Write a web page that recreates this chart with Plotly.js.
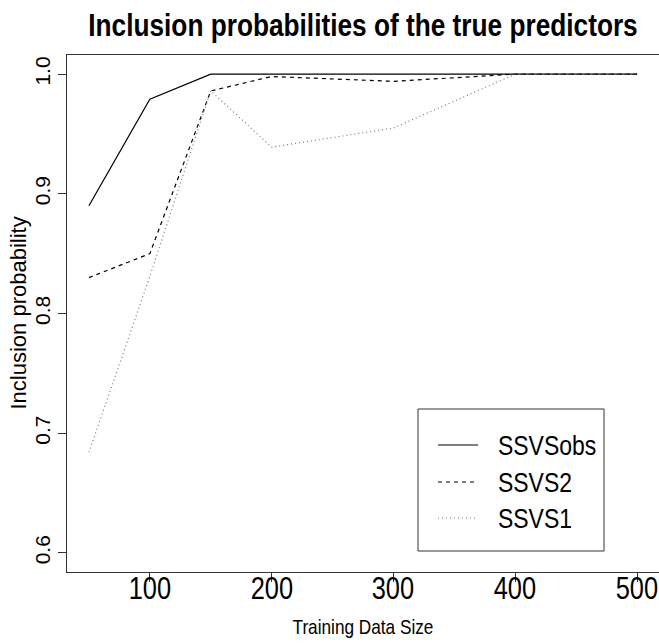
<!DOCTYPE html>
<html>
<head>
<meta charset="utf-8">
<script src="https://cdn.plot.ly/plotly-3.0.1.min.js"></script>
<style>
  html, body { margin: 0; padding: 0; background: #ffffff; }
  #chart { width: 659px; height: 644px; }
</style>
</head>
<body>
<div id="chart"></div>
<script>
// Training data sizes and inclusion probabilities per method
const trainingSize = [50, 100, 150, 200, 300, 400, 500];
const ssvsObs = [0.890, 0.979, 1.000, 1.000, 1.000, 1.000, 1.000];
const ssvs2   = [0.830, 0.850, 0.986, 0.998, 0.994, 1.000, 1.000];
const ssvs1   = [0.684, 0.831, 0.986, 0.939, 0.955, 1.000, 1.000];
const seriesNames = ["SSVSobs", "SSVS2", "SSVS1"];
const xTicks = [100, 200, 300, 400, 500];
const yTicks = [0.6, 0.7, 0.8, 0.9, 1.0];
const yTickText = ["0.6", "0.7", "0.8", "0.9", "1.0"];

// Fonts: horizontal text is set in a condensed Helvetica look, rotated text in the regular width
const NARROW = "'Liberation Sans Narrow', 'Liberation Sans', Arial, sans-serif";
const REGULAR = "'Liberation Sans', Arial, sans-serif";
const CONDENSE = 0.82;

const W = 659, H = 644;
const M = { l: 67, r: 0, t: 55, b: 72 };
const plotW = W - M.l - M.r, plotH = H - M.t - M.b;
const paperX = px => (px - M.l) / plotW;
const paperY = py => (H - M.b - py) / plotH;

const seriesStyles = [
  { color: "#000000", width: 1.2, dash: "solid" },
  { color: "#000000", width: 1.2, dash: "4px,4px" },
  { color: "#7a7a7a", width: 1.2, dash: "1px,3px" }
];
const seriesValues = [ssvsObs, ssvs2, ssvs1];

const traces = seriesValues.map((vals, i) => ({
  x: trainingSize, y: vals, name: seriesNames[i], mode: "lines",
  line: seriesStyles[i], showlegend: false
}));

// Boxed legend in the lower right of the plotting region
const legendBox = { x0: 418, y0: 409, x1: 604, y1: 551 };
const legendSample = { x0: 438, x1: 478 };
const legendTextX = 496;
const legendRowsY = [445, 482, 518];

const shapes = [
  { type: "rect", xref: "paper", yref: "paper",
    x0: paperX(legendBox.x0), x1: paperX(legendBox.x1),
    y0: paperY(legendBox.y1), y1: paperY(legendBox.y0),
    line: { color: "#333333", width: 1 }, fillcolor: "#ffffff", layer: "above" }
].concat(seriesNames.map((nm, i) => ({
  type: "line", xref: "paper", yref: "paper",
  x0: paperX(legendSample.x0), x1: paperX(legendSample.x1),
  y0: paperY(legendRowsY[i]), y1: paperY(legendRowsY[i]),
  line: { color: seriesStyles[i].color, width: seriesStyles[i].width, dash: seriesStyles[i].dash },
  layer: "above"
})));

const annotations = [];
// legend labels
seriesNames.forEach((nm, i) => annotations.push({
  text: nm, xref: "paper", yref: "paper",
  x: paperX(legendTextX), y: paperY(legendRowsY[i]),
  xanchor: "left", yanchor: "middle", align: "left", showarrow: false,
  font: { family: NARROW, size: 28, color: "#000000" }
}));
// x tick labels
xTicks.forEach(v => annotations.push({
  text: String(v), xref: "x", yref: "paper", x: v, y: 0,
  xanchor: "center", yanchor: "middle", yshift: -16, showarrow: false,
  font: { family: NARROW, size: 31, color: "#000000" }
}));
// axis titles
annotations.push({
  text: "Training Data Size", xref: "paper", yref: "paper", x: 0.5, y: 0,
  xanchor: "center", yanchor: "middle", yshift: -54.5, showarrow: false,
  font: { family: NARROW, size: 21, color: "#000000" }
});
annotations.push({
  text: "Inclusion probability", xref: "paper", yref: "paper", x: 0, y: 0.5,
  xanchor: "center", yanchor: "middle", xshift: -49, textangle: -90, showarrow: false,
  font: { family: REGULAR, size: 22, color: "#000000" }
});

const axisCommon = {
  showline: true, mirror: true, linecolor: "#333333", linewidth: 1,
  showgrid: false, zeroline: false,
  ticks: "outside", tickcolor: "#333333", tickwidth: 1
};

const layout = {
  width: W, height: H,
  margin: M,
  paper_bgcolor: "#ffffff", plot_bgcolor: "#ffffff",
  showlegend: false,
  title: {
    text: "Inclusion probabilities of the true predictors",
    font: { family: NARROW, size: 32, color: "#000000", weight: "bold" },
    x: 0.5, xref: "paper", y: 1 - 24.5 / H, yref: "container", yanchor: "middle"
  },
  xaxis: Object.assign({}, axisCommon, {
    range: [32, 518], tickvals: xTicks, ticklen: 9, showticklabels: false
  }),
  yaxis: Object.assign({}, axisCommon, {
    range: [0.584, 1.016], tickvals: yTicks, ticktext: yTickText, ticklen: 8,
    tickangle: -90,
    tickfont: { family: REGULAR, size: 21, color: "#000000" }
  }),
  shapes: shapes,
  annotations: annotations
};

// Squeeze horizontal labels to the condensed width, scaling about each label's anchor point
function condenseText(gd) {
  gd.querySelectorAll("text").forEach(el => {
    const fam = (el.style.fontFamily || "") + (el.getAttribute("font-family") || "");
    if (fam.indexOf("Narrow") === -1) return;
    const ax = parseFloat(el.getAttribute("x")) || 0;
    const prev = el.getAttribute("transform") || "";
    el.setAttribute("transform",
      (prev + " translate(" + ax + ",0) scale(" + CONDENSE + ",1) translate(" + (-ax) + ",0)").trim());
  });
}

Plotly.newPlot("chart", traces, layout, { staticPlot: true, displayModeBar: false })
  .then(gd => condenseText(gd));
</script>
</body>
</html>
